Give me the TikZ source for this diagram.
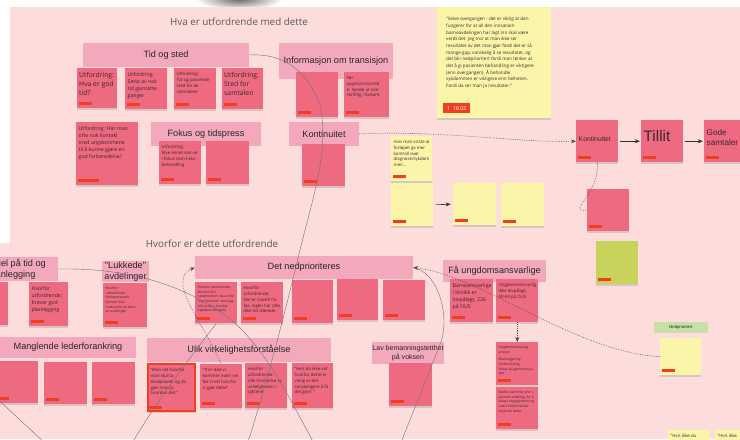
\documentclass[tikz,border=0pt]{standalone}
\usepackage{fontspec}
\setmainfont{Open Sans}
\newfontfamily\hdrfont{Liberation Sans}
\usepackage{tikz}
\usetikzlibrary{arrows.meta,shadows}
\definecolor{boardpink}{RGB}{253,221,219}
\definecolor{hdrpink}{RGB}{244,168,188}
\definecolor{notered}{RGB}{237,106,128}
\definecolor{tagred}{RGB}{240,62,32}
\definecolor{noteyel}{RGB}{251,245,170}
\definecolor{notegrn}{RGB}{200,211,92}
\definecolor{lblgrn}{RGB}{200,223,168}
\definecolor{inkdark}{RGB}{60,38,44}
\newlength{\px}\setlength{\px}{0.03cm}
% sticky note: style, name, x, y (top left), width, height, text
\newcommand{\postit}[7][]{%
  \node[note,#1,anchor=north west] (#2) at (#3,#4)
    {\parbox[t][\dimexpr#6\px-8\px\relax][t]{\dimexpr#5\px-5\px\relax}{\raggedright #7\par\hrule height0pt width\hsize}};
  \node[tagbox,anchor=south west] (#2tag) at ([shift={(2,-3)}]#2.south west) {};}

\begin{document}
\begin{tikzpicture}[
  x=0.03cm,y=-0.03cm,
  note/.style={rectangle,fill=notered,inner xsep=2.5\px,inner ysep=4\px,text=inkdark,
               drop shadow={opacity=0.28,shadow xshift=0.2pt,shadow yshift=-1.8pt}},
  yel/.style={fill=noteyel},
  grn/.style={fill=notegrn},
  hl/.style={draw=tagred,line width=2.4\px},
  big/.style={font=\fontsize{5.8}{7.7}\selectfont,inner xsep=2\px},
  mid/.style={font=\fontsize{4.4}{6.1}\selectfont},
  small/.style={font=\fontsize{3.7}{5}\selectfont},
  tiny/.style={font=\fontsize{2.9}{3.9}\selectfont},
  kfont/.style={font=\hdrfont\fontsize{5.8}{7}\selectfont},
  tfont/.style={font=\hdrfont\fontsize{13}{15}\selectfont},
  gfont/.style={font=\hdrfont\fontsize{7}{9}\selectfont},
  hdr/.style={rectangle,fill=hdrpink,inner sep=0pt,align=center,text=black!85,
              font=\hdrfont\fontsize{7.8}{9.4}\selectfont},
  ttl/.style={text=black!65,font=\fontsize{8.4}{10}\selectfont},
  tagbox/.style={rectangle,fill=tagred,minimum width=13\px,minimum height=3.5\px,inner sep=0pt},
  thread/.style={black!55,line width=0.35pt},
  dots/.style={black!70,densely dotted,line width=0.5pt},
  tip/.style={-{Stealth[length=1.5mm,width=1.2mm]}},
  ]

% ================= board =================
\useasboundingbox (0,0) rectangle (740,439);
\clip (0,0) rectangle (740,439);
\fill[white] (0,0) rectangle (740,439);
\shade[inner color=black!60,outer color=white] (239,-1) ellipse [x radius=1.3cm,y radius=0.32cm];
\fill[boardpink] (10,7) -- (740,7) -- (740,439) -- (0,439) -- (0,243) -- (10,243) -- cycle;

% ================= Hva er utfordrende med dette =================
\node[ttl] (ttlA) at (239,22) {Hva er utfordrende med dette};
\node[hdr,minimum width=166\px,minimum height=24\px] (tidsted) at (166,55) {Tid og sted};
\node[hdr,minimum width=114\px,minimum height=36\px] (info) at (336,61) {Informasjon om transisjon};
\node[hdr,minimum width=110\px,minimum height=24\px] (fokus) at (206,134) {Fokus og tidspress};
\node[hdr,minimum width=70\px,minimum height=24\px] (kont) at (324,134) {Kontinuitet};

\postit[big]{t1}{77}{68}{41}{40}{Utfordring:\\Hva er god\\tid?}
\postit[mid]{t2}{125}{68}{42}{41}{Utfordring:\\Sette av nok\\tid gjentatte\\ganger}
\postit[small]{t3}{174}{68}{42}{41}{Utfordring:\\Tid og passende\\sted for de\\samtalene}
\postit[big]{t4}{222}{68}{42}{41}{Utfordring:\\Sted for\\samtalen}
\postit[tiny]{i1}{296}{72}{42}{45}{}
\postit[small]{i2}{344}{72}{45}{45}{Før\\oppstartssamtal\\e: Sende ut noe\\skriftlig i forkant}

% quote from interview
\node[note,yel,anchor=north west,inner xsep=9\px,inner ysep=10\px,
      font=\fontsize{3.9}{5.7}\selectfont] (quote) at (437,7)
  {\parbox[t][91\px][t]{96\px}{\raggedright
   "Selve overgangen - det er viktig at den\\
   fungerer for at all den innsatsen\\
   barneavdelingen har lagt inn skal være\\
   verdt det. Jeg tror at man ikke ser\\
   resultatet av det man gjør fordi det er så\\
   mange gap, vanskelig å se resultatet, og\\
   det blir nedprioritert fordi man tenker at\\
   det å gi pasienten behandling er viktigere\\
   (enn overgangen). Å behandle\\
   sykdommen er viktigere enn helheten.\\
   Fordi da ser man jo resultater."}};
\node[tagbox,minimum width=27\px,minimum height=10\px,text=white,anchor=south west,
      font=\fontsize{4.6}{5}\selectfont] (quotetag) at ([shift={(6,-5)}]quote.south west) {1\enspace18.02};

\postit[mid]{u1}{76}{122}{62}{63}{Utfordring: Har man\\ofte nok kontakt\\med ungdommene\\til å kunne gjøre en\\god forberedelse?}
\node[tagbox,minimum width=21\px,anchor=south west] (u1tagb) at ([shift={(2,-3)}]u1.south west) {};
\postit[small]{f1}{159}{141}{42}{43}{Utfordring:\\Mye annet som er\\i fokus som f.eks.\\behandling}
\postit[tiny]{f2}{206}{141}{43}{43}{}
\postit[tiny]{k1}{302}{144}{43}{42}{}

% chain on the right
\postit[kfont]{kr}{576}{120}{42}{42}{\vspace*{12\px}Kontinuitet}
\postit[tfont]{tl}{641}{120}{42}{42}{\vspace*{6\px}Tillit}
\postit[gfont]{gd}{704}{120}{46}{42}{\vspace*{5\px}Gode\\samtaler}
\postit[tiny]{rn}{587}{189}{42}{42}{}
\postit[grn,tiny]{gn}{596}{241}{42}{43}{}

% yellow notes
\postit[yel,small]{y1}{391}{136}{41}{45}{Hvis man visste at\\forløpet ga mer\\kontroll over\\diagnose/sykdom\\men...}
\postit[yel,tiny]{y2}{391}{183}{42}{43}{}
\postit[yel,tiny]{y3}{453}{183}{43}{42}{}
\postit[yel,tiny]{y4}{501}{183}{43}{43}{}

% ================= Hvorfor er dette utfordrende =================
\node[ttl] (ttlB) at (212,244) {Hvorfor er dette utfordrende};
\node[hdr,minimum width=92\px,minimum height=24\px] (mangel) at (12,269) {Mangel på tid og\\planlegging};
\node[hdr,minimum width=47\px,minimum height=21\px] (lukk) at (125.5,271.5) {"Lukkede"\\avdelinger};
\node[hdr,minimum width=218\px,minimum height=23\px] (nedpri) at (304,267.5) {Det nedprioriteres};
\node[hdr,minimum width=103\px,minimum height=22\px] (faa) at (494.5,271) {Få ungdomsansvarlige};
\node[hdr,minimum width=54\px,minimum height=11\px,fill=lblgrn,
      font=\hdrfont\fontsize{3.6}{4}\selectfont] (nedlbl) at (681,327.5) {Nedprioritert};

\postit[tiny]{m1}{-34}{282}{42}{43}{}
\postit[mid]{m2}{29}{282}{39}{44}{Hvorfor\\utfordrende:\\Krever god\\planlegging}
\postit[tiny]{l1}{103}{283}{44}{44}{Hvorfor\\utfordrende:\\Helsepersonell\\kjenner ikke\\hverandre på tvers\\av avdelinger}
\postit[tiny]{np1}{195}{282}{42}{41}{Hvorfor utfordrende:\\Det blir fort\\nedprioritert, da andre\\ting "brenner" som jeg\\må ta tak i, kanskje\\oppleves viktigere}
\postit[small]{np2}{241}{282}{42}{41}{Hvorfor\\utfordrende:\\Det er travelt fra\\før, ingen har ofte\\ikke tid allerede.}
\postit[tiny]{np3}{292}{280}{41}{43}{}
\postit[tiny]{np4}{337}{279}{41}{41}{}
\postit[tiny]{np5}{383}{280}{42}{40}{}
\postit[mid]{fa1}{450}{279}{43}{43}{Barneansvarlige\\i klinikk er\\lovpålagt, 226\\på OUS}
\postit[small]{fa2}{496}{279}{42}{43}{Ungdomsansvarlig\\ikke lovpålagt,\\50-60 på OUS}
\postit[tiny]{fa3}{496}{342}{42}{43}{Ungdomsansvarlig\\ansvar:\\[2.5pt]Bevisstgjøring\\Undervisning\\Fokus på gjennom på alle}
\postit[tiny]{fa4}{496}{387}{42}{42}{Burde vært mer enn 1\\på hver avdeling, for å\\skape engasjement og\\noen å lufte tanker\\med om dette}
\postit[yel,tiny]{ny}{660}{338}{41}{37}{}

% ================= bottom row =================
\node[hdr,minimum width=136\px,minimum height=21\px] (leder) at (68,347.5) {Manglende lederforankring};
\node[hdr,minimum width=184\px,minimum height=24\px] (ulik) at (239,350) {Ulik virkelighetsforståelse};
\node[hdr,minimum width=71\px,minimum height=22\px,font=\hdrfont\fontsize{6}{7.2}\selectfont] (lav) at (408,353) {Lav bemanningstetthet\\på voksen};

\postit[tiny]{b1}{-6}{361}{44}{42}{}
\postit[tiny]{b2}{44}{362}{43}{42}{}
\postit[tiny]{b3}{92}{362}{43}{42}{}
\postit[hl,small]{ul1}{147}{363}{47}{47}{"Man vet hvorfor\\man skal ta\\blodprøvet, og da\\gjør man jo\\hvordan det."}
\postit[small]{ul2}{200}{364}{42}{44}{"Tror ikke vi\\kommer noen vei\\før vi vet hvorfor\\vi gjør dette"}
\postit[small]{ul3}{245}{363}{42}{45}{Hvorfor\\utfordrende:\\Ulik forståelse av\\virkeligheten i\\sjiktene}
\postit[small]{ul4}{292}{363}{41}{45}{"Hvis du ikke vet\\hvorfor dette er\\viktig er det\\vanskeligere å få\\det gjort."}
\postit[tiny]{lv1}{389}{363}{43}{43}{}
\postit[yel,small]{yb1}{668}{430}{42}{40}{"Hvis ikke du}
\postit[yel,small]{yb2}{715}{430}{40}{40}{"Hvis ikke}

% ================= threads and arrows =================
\coordinate (endA) at (247,445);
\coordinate (endB) at (315,445);
\coordinate (endC) at (131,445);
\coordinate (startD) at (-10,392);
\coordinate (endD) at (47,445);
\coordinate (endE) at (400,445);
\draw[thread] (tidsted.east) .. controls (285,53) and (308,72) .. (320,105)
  .. controls (330,150) and (312,200) .. (300,250) .. controls (288,300) and (268,380) .. (endA);
\draw[thread] (mangel.east) .. controls (120,268) and (175,280) .. (225,315)
  .. controls (265,345) and (290,400) .. (endB);
\draw[thread] (np1.south) .. controls (200,345) and (160,395) .. (endC);
\draw[thread] (startD) -- (endD);
\draw[thread] (nedpri.east) .. controls (438,272) and (450,315) .. (441,342) -- (endE);

\draw[dots,tip] (kont.east) .. controls (440,130) and (520,143) .. (kr.west);
\draw[dots] (kr.south) .. controls (600,195) and (565,212) .. (rn.west);
\draw[dots,tip] (ul2.north) .. controls (205,325) and (165,280) .. (nedpri.west);
\draw[dots,tip] (ny.west) .. controls (575,352) and (480,275) .. (nedpri.east);
\draw[dots,tip] (fa2.south) -- (fa3.north);
\draw[tip,black!80,line width=0.5pt,shorten <=1pt,shorten >=1pt] (kr.east) -- (tl.west);
\draw[tip,black!80,line width=0.5pt,shorten <=1pt,shorten >=1pt] (tl.east) -- (gd.west);
\draw[tip,black!80,line width=0.5pt,shorten <=2pt,shorten >=2pt] (y2.east) -- (y3.west);
\end{tikzpicture}
\end{document}
